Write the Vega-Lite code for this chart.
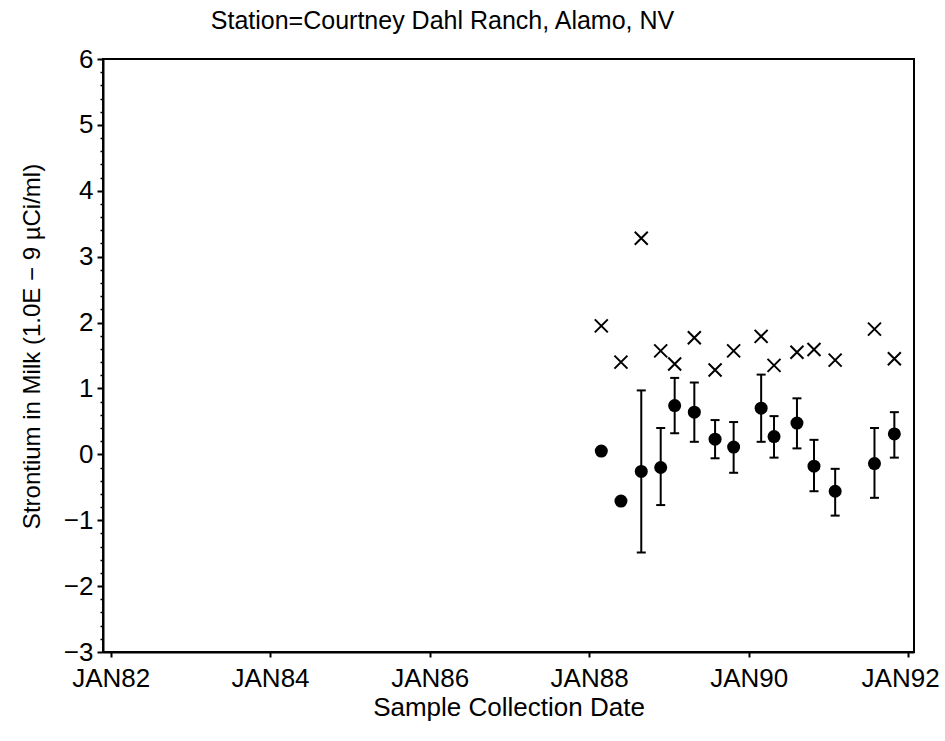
{
  "$schema": "https://vega.github.io/schema/vega-lite/v6.json",
  "width": 811,
  "height": 593,
  "autosize": {"type": "none"},
  "padding": {"left": 103, "top": 59, "right": 31, "bottom": 89},
  "background": "white",
  "title": {
    "text": "Station=Courtney Dahl Ranch, Alamo, NV",
    "font": "Liberation Sans",
    "fontSize": 25,
    "fontWeight": "normal",
    "color": "black",
    "anchor": "middle",
    "dx": -66,
    "offset": 12
  },
  "config": {
    "view": {"stroke": "black", "strokeWidth": 2},
    "axis": {
      "grid": false,
      "labelFont": "Liberation Sans",
      "titleFont": "Liberation Sans",
      "labelColor": "black",
      "titleColor": "black",
      "tickColor": "black",
      "domainColor": "black",
      "titleFontWeight": "normal",
      "labelFlush": false,
      "labelBound": false,
      "labelOverlap": false
    }
  },
  "data": {
    "values": [
      {"date": "1988-02-26", "mdc": 1.95, "val": 0.05, "lo": null, "hi": null},
      {"date": "1988-05-26", "mdc": 1.40, "val": -0.71, "lo": null, "hi": null},
      {"date": "1988-08-27", "mdc": 3.28, "val": -0.26, "lo": -1.49, "hi": 0.97},
      {"date": "1988-11-24", "mdc": 1.57, "val": -0.20, "lo": -0.77, "hi": 0.40},
      {"date": "1989-01-27", "mdc": 1.37, "val": 0.74, "lo": 0.32, "hi": 1.16},
      {"date": "1989-04-27", "mdc": 1.77, "val": 0.64, "lo": 0.19, "hi": 1.09},
      {"date": "1989-07-31", "mdc": 1.28, "val": 0.23, "lo": -0.06, "hi": 0.52},
      {"date": "1989-10-24", "mdc": 1.57, "val": 0.11, "lo": -0.28, "hi": 0.49},
      {"date": "1990-02-27", "mdc": 1.79, "val": 0.70, "lo": 0.19, "hi": 1.21},
      {"date": "1990-04-27", "mdc": 1.35, "val": 0.27, "lo": -0.05, "hi": 0.58},
      {"date": "1990-08-10", "mdc": 1.55, "val": 0.475, "lo": 0.09, "hi": 0.85},
      {"date": "1990-10-27", "mdc": 1.59, "val": -0.18, "lo": -0.56, "hi": 0.22},
      {"date": "1991-02-01", "mdc": 1.43, "val": -0.56, "lo": -0.93, "hi": -0.22},
      {"date": "1991-07-31", "mdc": 1.90, "val": -0.14, "lo": -0.66, "hi": 0.40},
      {"date": "1991-10-30", "mdc": 1.45, "val": 0.31, "lo": -0.05, "hi": 0.64}
    ]
  },
  "resolve": {"axis": {"y": "independent"}},
  "layer": [
    {
      "mark": {"type": "rule", "color": "black", "strokeWidth": 2},
      "encoding": {
        "x": {
          "field": "date",
          "type": "temporal",
          "scale": {
            "type": "utc",
            "domain": [
              {"year": 1981, "month": 11, "date": 27, "utc": true},
              {"year": 1992, "month": 1, "date": 28, "utc": true}
            ]
          },
          "axis": {
            "values": [
              {"year": 1982, "month": 1, "date": 1, "utc": true},
              {"year": 1984, "month": 1, "date": 1, "utc": true},
              {"year": 1986, "month": 1, "date": 1, "utc": true},
              {"year": 1988, "month": 1, "date": 1, "utc": true},
              {"year": 1990, "month": 1, "date": 1, "utc": true},
              {"year": 1992, "month": 1, "date": 1, "utc": true}
            ],
            "labelExpr": "'JAN' + utcFormat(datum.value, '%y')",
            "labelOffset": {"condition": {"test": "utcyear(datum.value) === 1992", "value": -8}, "value": 0},
            "tickSize": 5,
            "tickWidth": 2,
            "domainWidth": 2,
            "labelFontSize": 26,
            "labelPadding": 8,
            "title": "Sample Collection Date",
            "titleFontSize": 26,
            "titlePadding": 3
          }
        },
        "y": {
          "field": "lo",
          "type": "quantitative",
          "scale": {"domain": [-3, 6], "nice": false, "zero": false},
          "axis": {
            "orient": "left",
            "values": [-3, -2, -1, 0, 1, 2, 3, 4, 5, 6],
            "tickSize": 6,
            "tickWidth": 2,
            "domainWidth": 2,
            "labelFontSize": 26,
            "labelPadding": 4,
            "title": "Strontium in Milk (1.0E − 9 µCi/ml)",
            "titleFontSize": 24,
            "titlePadding": 19,
            "titleY": 287
          }
        },
        "y2": {"field": "hi"}
      }
    },
    {
      "mark": {"type": "tick", "orient": "horizontal", "size": 9, "thickness": 2, "color": "black", "opacity": 1},
      "encoding": {
        "x": {"field": "date", "type": "temporal"},
        "y": {
          "field": "lo",
          "type": "quantitative",
          "axis": {
            "orient": "left",
            "values": [-2.8, -2.6, -2.4, -2.2, -1.8, -1.6, -1.4, -1.2, -0.8, -0.6, -0.4, -0.2, 0.2, 0.4, 0.6, 0.8, 1.2, 1.4, 1.6, 1.8, 2.2, 2.4, 2.6, 2.8, 3.2, 3.4, 3.6, 3.8, 4.2, 4.4, 4.6, 4.8, 5.2, 5.4, 5.6, 5.8],
            "tickSize": 3,
            "tickWidth": 1.5,
            "labels": false,
            "domain": false,
            "title": null
          }
        }
      }
    },
    {
      "mark": {"type": "tick", "orient": "horizontal", "size": 9, "thickness": 2, "color": "black", "opacity": 1},
      "encoding": {
        "x": {"field": "date", "type": "temporal"},
        "y": {"field": "hi", "type": "quantitative", "axis": null}
      }
    },
    {
      "mark": {"type": "point", "shape": "circle", "filled": true, "size": 169, "color": "black", "opacity": 1},
      "encoding": {
        "x": {"field": "date", "type": "temporal"},
        "y": {"field": "val", "type": "quantitative", "axis": null}
      }
    },
    {
      "mark": {"type": "point", "shape": "M-1,-1L1,1M-1,1L1,-1", "filled": false, "size": 169, "strokeWidth": 2, "color": "black", "opacity": 1},
      "encoding": {
        "x": {"field": "date", "type": "temporal"},
        "y": {"field": "mdc", "type": "quantitative", "axis": null}
      }
    }
  ]
}
